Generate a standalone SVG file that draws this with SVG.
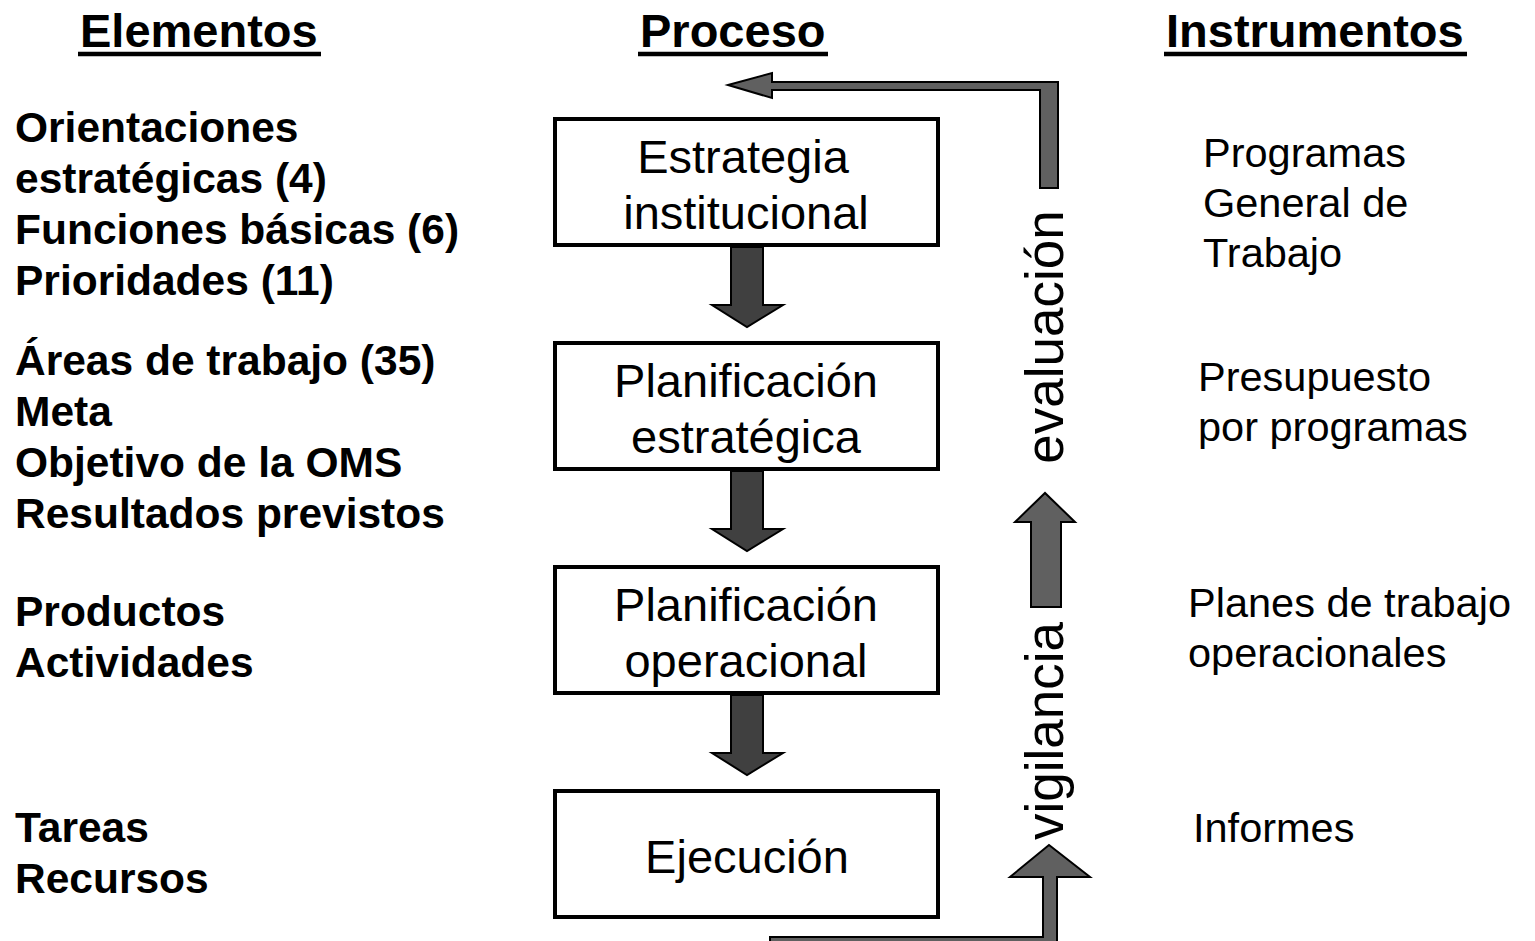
<svg xmlns="http://www.w3.org/2000/svg" width="1535" height="941" viewBox="0 0 1535 941">
<style>
text{font-family:"Liberation Sans",Arial,sans-serif;fill:#000}
.h{font-size:47px;font-weight:bold}
.ul{stroke:#000;stroke-width:4.5}
.l{font-size:42.5px;font-weight:bold}
.r{font-size:41.5px}
.b{font-size:47px;text-anchor:middle}
.v{font-size:53px;text-anchor:middle}
.box{fill:#fff;stroke:#000;stroke-width:4}
.down{fill:#404040;stroke:#000;stroke-width:2;stroke-linejoin:miter}
.up{fill:#606060;stroke:#000;stroke-width:2;stroke-linejoin:miter}
</style>
<rect width="1535" height="941" fill="#fff"/>
<g id="headings">
<text class="h" x="80" y="47">Elementos</text>
<line class="ul" x1="78" y1="54" x2="321" y2="54"/>
<text class="h" x="640" y="47">Proceso</text>
<line class="ul" x1="638" y1="54" x2="828" y2="54"/>
<text class="h" x="1166" y="47">Instrumentos</text>
<line class="ul" x1="1164" y1="54" x2="1467" y2="54"/>
</g>
<g id="elementos">
<text class="l" x="15" y="142">Orientaciones</text>
<text class="l" x="15" y="193">estratégicas (4)</text>
<text class="l" x="15" y="244">Funciones básicas (6)</text>
<text class="l" x="15" y="295">Prioridades (11)</text>
<text class="l" x="15" y="375">Áreas de trabajo (35)</text>
<text class="l" x="15" y="426">Meta</text>
<text class="l" x="15" y="477">Objetivo de la OMS</text>
<text class="l" x="15" y="528">Resultados previstos</text>
<text class="l" x="15" y="626">Productos</text>
<text class="l" x="15" y="677">Actividades</text>
<text class="l" x="15" y="842">Tareas</text>
<text class="l" x="15" y="893">Recursos</text>
</g>
<g id="instrumentos">
<text class="r" x="1203" y="167">Programas</text>
<text class="r" x="1203" y="217">General de</text>
<text class="r" x="1203" y="267">Trabajo</text>
<text class="r" x="1198" y="391">Presupuesto</text>
<text class="r" x="1198" y="441">por programas</text>
<text class="r" x="1188" y="617">Planes de trabajo</text>
<text class="r" x="1188" y="667">operacionales</text>
<text class="r" x="1193" y="842">Informes</text>
</g>
<g id="node-estrategia">
<rect class="box" x="555" y="119" width="383" height="126"/>
<text class="b" x="743" y="173">Estrategia</text>
<text class="b" x="746" y="229">institucional</text>
</g>
<g id="node-planificacion-estrategica">
<rect class="box" x="555" y="343" width="383" height="126"/>
<text class="b" x="746" y="397">Planificación</text>
<text class="b" x="746" y="453">estratégica</text>
</g>
<g id="node-planificacion-operacional">
<rect class="box" x="555" y="567" width="383" height="126"/>
<text class="b" x="746" y="621">Planificación</text>
<text class="b" x="746" y="677">operacional</text>
</g>
<g id="node-ejecucion">
<rect class="box" x="555" y="791" width="383" height="126"/>
<text class="b" x="747" y="873">Ejecución</text>
</g>
<g id="connectors">
<polygon class="down" points="731,247 763,247 763,305 783,305 747,327 712,305 731,305"/>
<polygon class="down" points="731,471 763,471 763,529 783,529 747,551 712,529 731,529"/>
<polygon class="down" points="731,695 763,695 763,753 783,753 747,775 712,753 731,753"/>
<polygon class="up" points="770,937 1043,937 1043,877 1010,877 1049,845 1090,877 1057,877 1057,960 770,960"/>
<polygon class="up" points="1031,607 1031,522 1015,522 1045,493 1075,522 1061,522 1061,607"/>
<polygon class="up" points="728,85 772,73 772,82 1058,82 1058,188 1040,188 1040,90 772,90 772,98"/>
<text class="v" transform="translate(1063,731) rotate(-90)">vigilancia</text>
<text class="v" transform="translate(1063,337) rotate(-90)">evaluación</text>
</g>
</svg>
